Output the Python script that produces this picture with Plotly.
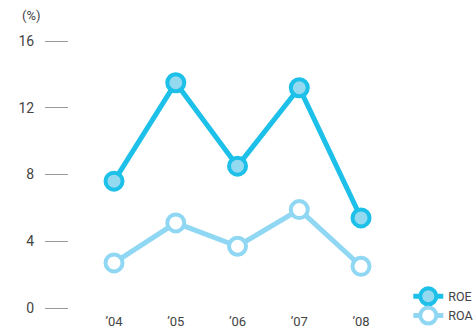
import plotly.graph_objects as go

years = ["’04", "’05", "’06", "’07", "’08"]
roe = [7.6, 13.5, 8.5, 13.2, 5.4]
roa = [2.7, 5.1, 3.7, 5.9, 2.5]
y_ticks = [0, 4, 8, 12, 16]

x_idx = list(range(len(years)))

fig = go.Figure()
fig.add_trace(go.Scatter(
    x=x_idx, y=roe, name="ROE", mode="lines+markers",
    line=dict(color="#1cc0e8", width=5),
    marker=dict(size=17, color="#93d9f0", line=dict(color="#1cc0e8", width=4)),
    cliponaxis=False,
))
fig.add_trace(go.Scatter(
    x=x_idx, y=roa, name="ROA", mode="lines+markers",
    line=dict(color="#8fd7f3", width=5),
    marker=dict(size=17, color="#ffffff", line=dict(color="#8fd7f3", width=4)),
    cliponaxis=False,
))

fig.update_layout(
    width=474, height=328,
    margin=dict(l=69, r=64, t=31, b=20, autoexpand=False),
    paper_bgcolor="white", plot_bgcolor="white",
    font=dict(family="Roboto, sans-serif", color="#444444", size=14),
    showlegend=True,
    legend=dict(x=0.995, y=0.095, xanchor="left", yanchor="top",
                font=dict(size=12.5, color="#444444"), itemwidth=30,
                bgcolor="rgba(0,0,0,0)", tracegroupgap=0),
    xaxis=dict(
        range=[-0.729, 4.793], tickmode="array", tickvals=x_idx, ticktext=years,
        showgrid=False, zeroline=False, showline=False, ticks="",
        ticklabelstandoff=4,
        tickfont=dict(size=13, color="#444444"), automargin=False,
    ),
    yaxis=dict(
        range=[0, 16.6], tickmode="array", tickvals=y_ticks,
        showgrid=False, zeroline=False, showline=False,
        ticks="outside", ticklen=23, tickwidth=1, tickcolor="#999999",
        ticklabelstandoff=8, automargin=False,
        tickfont=dict(size=14, color="#444444"),
    ),
    annotations=[dict(text="(%)", xref="paper", yref="paper", x=-0.11, y=1.022,
                      xanchor="center", yanchor="bottom", showarrow=False,
                      font=dict(size=13, color="#444444"))],
)

fig.write_html("out.html")
